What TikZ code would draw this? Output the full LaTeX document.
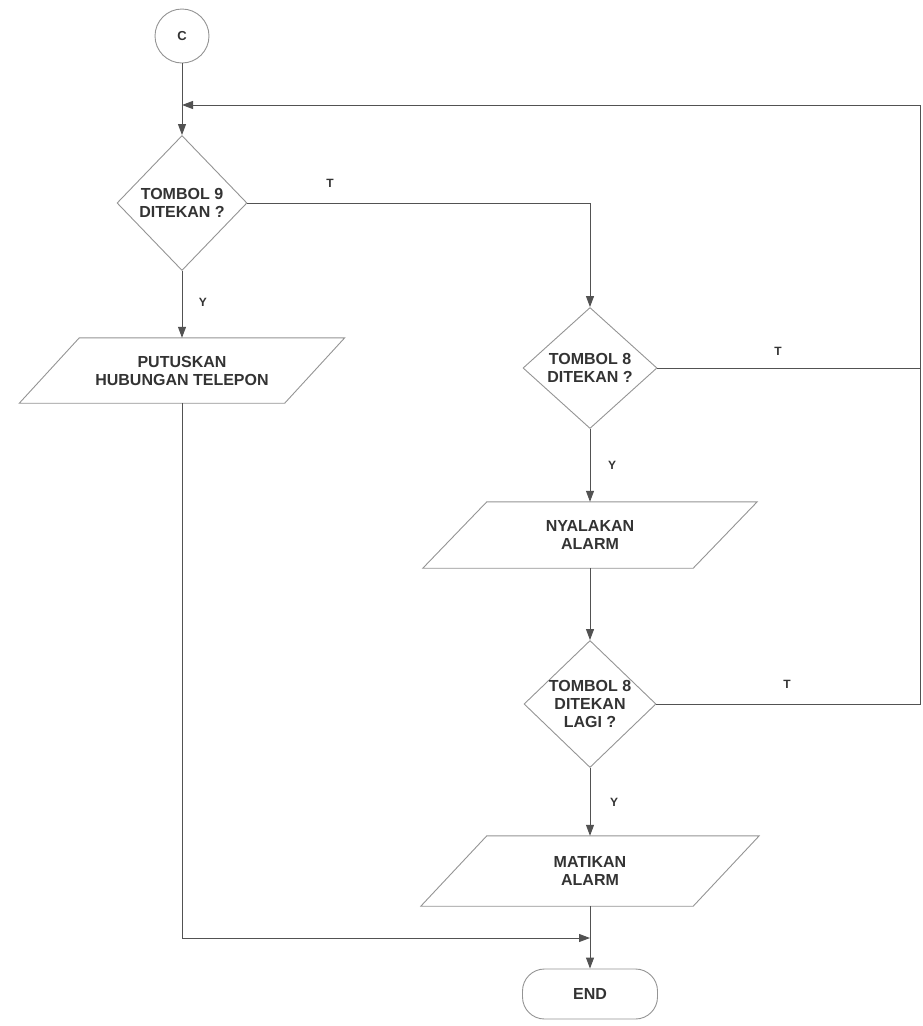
\documentclass[tikz,border=0pt]{standalone}
\usepackage{fontspec}
\setmainfont{Liberation Sans}
\usetikzlibrary{shapes.geometric,arrows.meta}
\begin{document}
\begin{tikzpicture}[x=1pt,y=-1pt,
  every node/.style={font=\fontsize{16}{18}\selectfont\bfseries, text=black!80, align=center},
  outline/.style={draw=black!42, line width=0.9pt},
  connector/.style={draw=black!68, line width=1pt},
  arr/.style={connector, -{Triangle[length=11pt,width=8pt]}},
  decision/.style={shape=diamond, outline, inner sep=-3pt},
  iobox/.style={rectangle, inner sep=0pt},
  terminal/.style={rectangle, outline, rounded corners=22pt, inner sep=0pt},
  connlabel/.style={font=\fontsize{12}{12}\selectfont\bfseries}
]
\useasboundingbox (0,0) rectangle (923,1026);

% connector circle
\node[circle, outline, minimum size=54pt, inner sep=0pt,
      font=\fontsize{13}{13}\selectfont\bfseries] (c) at (182,36) {C};

% decisions
\node[decision, minimum width=130pt, minimum height=135pt] (d1) at (182,203)
  {TOMBOL 9\\DITEKAN ?};
\node[decision, minimum width=134pt, minimum height=121pt] (d2) at (590,368)
  {TOMBOL 8\\DITEKAN ?};
\node[decision, minimum width=132pt, minimum height=127pt] (d3) at (590,704)
  {TOMBOL 8\\DITEKAN\\LAGI ?};

% input/output boxes (parallelograms drawn around the text nodes)
\node[iobox, minimum width=265pt, minimum height=65pt] (p1) at (182,370.5)
  {PUTUSKAN\\HUBUNGAN TELEPON};
\node[iobox, minimum width=270pt, minimum height=66pt] (p2) at (590,535)
  {NYALAKAN\\ALARM};
\node[iobox, minimum width=272pt, minimum height=70pt] (p3) at (590,871)
  {MATIKAN\\ALARM};
\draw[outline] ([xshift=30pt]p1.north west) -- ([xshift=30pt]p1.north east)
  -- ([xshift=-30pt]p1.south east) -- ([xshift=-30pt]p1.south west) -- cycle;
\draw[outline] ([xshift=32pt]p2.north west) -- ([xshift=32pt]p2.north east)
  -- ([xshift=-32pt]p2.south east) -- ([xshift=-32pt]p2.south west) -- cycle;
\draw[outline] ([xshift=33pt]p3.north west) -- ([xshift=33pt]p3.north east)
  -- ([xshift=-33pt]p3.south east) -- ([xshift=-33pt]p3.south west) -- cycle;

% terminal
\node[terminal, minimum width=135pt, minimum height=50pt] (end) at (590,994) {END};

% helper points
\coordinate (fb) at (182,105);
\coordinate (tr) at (920,105);
\coordinate (j) at (590,938);

% connectors
\draw[arr] (c) -- (d1);
\draw[arr] (d1.east) -| (d2.north);
\node[connlabel] (t1) at (330,183) {T};
\draw[arr] (d1.south) -- (p1.north);
\node[connlabel] (y1) at (203,302) {Y};
\draw[arr] (d2.south) -- (p2.north);
\node[connlabel] (y2) at (612,465) {Y};
\draw[arr] (p2.south) -- (d3.north);
\draw[arr] (d3.south) -- (p3.north);
\node[connlabel] (y3) at (614,802) {Y};
\draw[arr] (p3.south) -- (end.north);
\draw[arr] (p1.south) |- (j);

% return path on the right
\draw[connector] (d2.east) -- (d2.east -| tr);
\node[connlabel] (t2) at (778,351) {T};
\draw[arr] (d3.east) -| (tr) -- (fb);
\node[connlabel] (t3) at (787,684) {T};
\end{tikzpicture}
\end{document}
